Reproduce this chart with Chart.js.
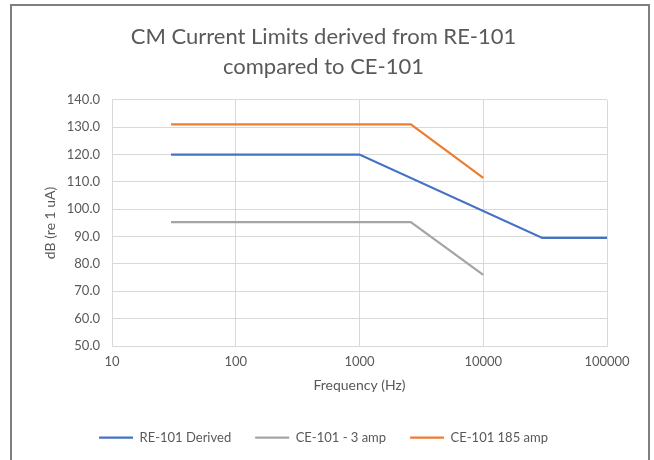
<!DOCTYPE html>
<html>
<head>
<meta charset="utf-8">
<script src="https://cdn.jsdelivr.net/npm/chart.js@4"></script>
<style>
  body { margin: 0; background: #fff; }
  #frame { position: absolute; left: 10px; top: 4px; width: 636px; height: 470px; border: 2px solid #7f7f7f; border-bottom: none; }
  #c { position: absolute; left: 0; top: 0; }
</style>
</head>
<body>
<div id="frame"></div>
<canvas id="c" width="654" height="460"></canvas>
<script>
// frequency (Hz) / limit (dB re 1 uA)
const reFreq = [30, 1000, 30000, 100000]
const reVals = [120, 120, 89.5, 89.5]

const ce3Freq = [30, 2600, 10000]
const ce3Vals = [95.3, 95.3, 76]

const ce185Freq = [30, 2600, 10000]
const ce185Vals = [131, 131, 111.5]

const xTicks = [10, 100, 1000, 10000, 100000]

const font = 'Lato, "Open Sans", sans-serif'
const grey = '#595959'

const toPoints = (xs, ys) => xs.map((x, i) => ({ x: x, y: ys[i] }))

const series = (label, xs, ys, color) => ({
  label: label,
  data: toPoints(xs, ys),
  borderColor: color,
  backgroundColor: color,
  pointBorderColor: color,
  pointBackgroundColor: color,
  pointBorderWidth: 2.25
})

new Chart(
  document.getElementById('c'),
  {
    type: 'line',
    data: {
      datasets: [
        series('RE-101 Derived', reFreq, reVals, '#4472C4'),
        series('CE-101 - 3 amp', ce3Freq, ce3Vals, '#A5A5A5'),
        series('CE-101 185 amp', ce185Freq, ce185Vals, '#ED7D31')
      ]
    },
    options: {
      responsive: false,
      animation: false,
      elements: {
        line: { borderWidth: 2.25, tension: 0 },
        point: { radius: 0 }
      },
      layout: { padding: { left: 40, right: 47, top: 0, bottom: 6 } },
      scales: {
        x: {
          type: 'logarithmic',
          min: 10,
          max: 100000,
          afterBuildTicks: scale => { scale.ticks = xTicks.map(v => ({ value: v })) },
          afterFit: scale => { scale.height = 61 },
          grid: { color: '#D9D9D9', drawTicks: false },
          border: { color: '#D9D9D9' },
          ticks: { color: grey, font: { family: font, size: 13 }, padding: 8, maxRotation: 0, callback: v => String(v) },
          title: { display: true, text: 'Frequency (Hz)', color: grey, font: { family: font, size: 14 }, padding: { top: 4, bottom: 13 } }
        },
        y: {
          min: 50,
          max: 140,
          afterFit: scale => { scale.width = 72 },
          grid: { color: '#D9D9D9', drawTicks: false },
          border: { color: '#D9D9D9' },
          ticks: { stepSize: 10, color: grey, font: { family: font, size: 13 }, padding: 12, callback: v => v.toFixed(1) },
          title: { display: true, text: 'dB (re 1 uA)', color: grey, font: { family: font, size: 14 }, padding: 2 }
        }
      },
      plugins: {
        title: {
          display: true,
          text: ['CM Current Limits derived from RE-101', 'compared to CE-101'],
          color: grey,
          font: { family: font, size: 22, weight: 'normal', lineHeight: 1.36 },
          padding: { top: 22, bottom: 18 }
        },
        legend: {
          position: 'bottom',
          labels: {
            usePointStyle: true,
            pointStyle: 'line',
            pointStyleWidth: 34,
            color: grey,
            font: { family: font, size: 13 },
            padding: 24
          }
        },
        tooltip: { enabled: false }
      }
    }
  }
);
</script>
</body>
</html>
